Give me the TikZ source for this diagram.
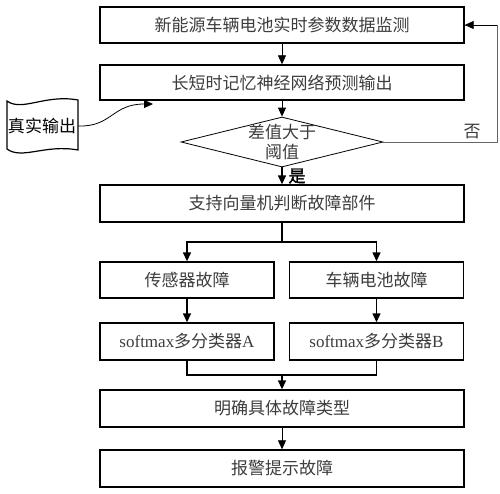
\documentclass[tikz,border=0pt]{standalone}
\usepackage{fontspec}
\setmainfont{Liberation Serif}
\newfontfamily\cjk{Noto Sans CJK SC}
\newfontfamily\cjkbold[FakeBold=2.5]{Noto Sans CJK SC}
\usetikzlibrary{shapes.geometric,arrows.meta}
\definecolor{txt}{RGB}{60,60,60}
\begin{document}
\begin{tikzpicture}[x=1pt,y=-1pt,
  font=\fontsize{17}{20}\selectfont\cjk,
  box/.style={draw, line width=1.4pt, minimum width=364pt, minimum height=36pt, inner sep=0pt, text=txt},
  sbox/.style={box, minimum width=174pt},
  arr/.style={-{Triangle[length=9pt,width=8pt]}, line width=1.4pt},
  tarr/.style={-{Triangle[length=9pt,width=8pt]}, line width=0.8pt}]
\useasboundingbox (0,0) rectangle (500,493);
\node[box] (b1) at (282,25) {新能源车辆电池实时参数数据监测};
\node[box, minimum height=35pt] (b2) at (282,82.5) {长短时记忆神经网络预测输出};
\node[diamond, draw, line width=0.8pt, minimum width=202pt, minimum height=50pt, inner sep=0pt] (d) at (282,142) {};
\node[text=txt, align=center, inner sep=0pt] (dt) at (282,142) {差值大于\\阈值};
\node[box, minimum height=37pt] (b3) at (282,203.5) {支持向量机判断故障部件};
\node[sbox] (b4a) at (187,280) {传感器故障};
\node[sbox] (b4b) at (376.5,280) {车辆电池故障};
\node[sbox, minimum height=37pt] (b5a) at (187,341.5) {{\rmfamily softmax}多分类器{\rmfamily A}};
\node[sbox, minimum height=37pt] (b5b) at (376.5,341.5) {{\rmfamily softmax}多分类器{\rmfamily B}};
\node[box, minimum height=37pt] (b6) at (282,408.5) {明确具体故障类型};
\node[box, minimum height=37pt] (b7) at (282,468.5) {报警提示故障};
% tape
\node[inner sep=2pt] (tape) at (42,126) {真实输出};
\draw[line width=1.2pt] (7,101) .. controls (22,112) and (45,94) .. (78,100)
  -- (78,150) .. controls (45,144) and (22,160) .. (7,149) -- cycle;
\node[font=\fontsize{17}{20}\selectfont\cjkbold] (yes) at (297,176) {是};
\node[text=txt] (no) at (472,132) {否};
\coordinate (s) at (282,242);
\coordinate (m) at (282,375);
\coordinate (r1) at (497,142);
\coordinate (r2) at (497,25);
% connectors
\draw[tarr] (b1) -- (b2);
\draw[tarr] (b2) -- (d.north);
\draw[arr] (d.south) -- (b3.north);
\draw[line width=0.8pt, draw=black!60] (d.east) -- (r1) -- (r2) -- (b1.east);
\draw[-{Triangle[length=9pt,width=8pt]}, line width=0.8pt] (r2) -- (b1.east);
\draw[tarr] (tape.east) .. controls (112,127) and (112,104) .. (153,104);
\draw[line width=1.4pt] (b3.south) -- (s);
\draw[arr] (s) -| (b4a.north);
\draw[arr] (s) -| (b4b.north);
\draw[arr] (b4a) -- (b5a);
\draw[arr] (b4b) -- (b5b);
\draw[line width=1.4pt] (b5a.south) |- (m) -| (b5b.south);
\draw[arr] (m) -- (b6.north);
\draw[tarr] (b6) -- (b7);
\end{tikzpicture}
\end{document}
